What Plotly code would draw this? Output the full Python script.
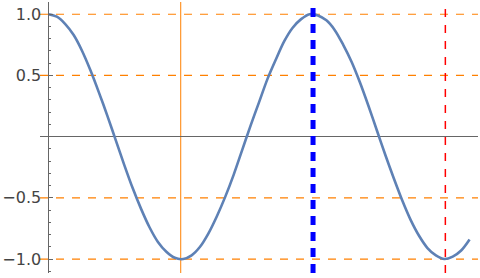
import plotly.graph_objects as go

# Curve samples
x_vals = [0.0, 0.2, 0.4, 0.6, 0.8, 1.0, 1.2, 1.4, 1.6, 1.8,
          2.0, 2.2, 2.4, 2.6, 2.8, 3.0, 3.2, 3.4, 3.6, 3.8,
          4.0, 4.2, 4.4, 4.6, 4.8, 5.0, 5.2, 5.4, 5.6, 5.8,
          6.0, 6.2, 6.4, 6.6, 6.8, 7.0, 7.2, 7.4, 7.6, 7.8,
          8.0, 8.2, 8.4, 8.6, 8.8, 9.0, 9.2, 9.4, 9.6, 9.8, 10.0]
y_vals = [1.00, 0.98, 0.92, 0.83, 0.70, 0.54, 0.36, 0.17, -0.03, -0.23,
          -0.42, -0.59, -0.74, -0.86, -0.94, -0.99, -1.00, -0.97, -0.90, -0.79,
          -0.65, -0.49, -0.31, -0.11, 0.09, 0.28, 0.47, 0.63, 0.78, 0.89,
          0.96, 1.00, 0.99, 0.95, 0.87, 0.75, 0.61, 0.44, 0.25, 0.05,
          -0.15, -0.34, -0.52, -0.68, -0.81, -0.91, -0.97, -1.00, -0.98, -0.93, -0.84]

y_tick_vals = [1.0, 0.5, -0.5, -1.0]
y_tick_text = ["1.0", "0.5", "\u22120.5", "\u22121.0"]

h_grid = [1.0, 0.5, -0.5, -1.0]
v_grid = [3.1416, 6.2832, 9.4248]

x_range = [-0.2, 10.2]
y_range = [-1.114, 1.1]

fig = go.Figure()
fig.add_trace(go.Scatter(x=x_vals, y=y_vals, mode="lines",
                         line=dict(color="#5E81B5", width=2.6, shape="spline", smoothing=0.9),
                         hoverinfo="skip", showlegend=False))

shapes = []
for h in h_grid:
    shapes.append(dict(type="line", xref="paper", yref="y", x0=0, x1=1, y0=h, y1=h,
                       line=dict(color="#FF8000", width=1.2, dash="8px,8px"), layer="below"))

v_styles = [
    dict(color="#FF8000", width=1, dash="solid"),
    dict(color="#0000FF", width=5, dash="9px,7px"),
    dict(color="#FF0000", width=1.5, dash="8px,8px"),
]
v_layers = ["below", "above", "above"]
for v, st, ly in zip(v_grid, v_styles, v_layers):
    shapes.append(dict(type="line", xref="x", yref="paper", x0=v, x1=v, y0=0, y1=1,
                       line=st, layer=ly))

ypos = (0 - x_range[0]) / (x_range[1] - x_range[0])

fig.update_layout(
    width=480, height=278,
    margin=dict(l=38, r=2, t=2, b=5),
    paper_bgcolor="white", plot_bgcolor="white",
    shapes=shapes,
    xaxis=dict(range=x_range, showgrid=False, zeroline=False, showticklabels=False,
               ticks="", showline=False),
    yaxis=dict(range=y_range, showgrid=False, zeroline=True, zerolinecolor="#666666",
               zerolinewidth=1, anchor="free", position=ypos, side="left",
               showline=True, linecolor="#666666", linewidth=1,
               tickmode="array", tickvals=y_tick_vals, ticktext=y_tick_text,
               ticks="inside", ticklen=4, tickwidth=1, tickcolor="#666666",
               ticklabelstandoff=4,
               minor=dict(tickmode="linear", tick0=0, dtick=0.1, ticks="inside",
                          ticklen=2, tickwidth=1, tickcolor="#666666"),
               tickfont=dict(family="DejaVu Sans", size=16, color="#444444")),
)

fig.write_html("out.html")
